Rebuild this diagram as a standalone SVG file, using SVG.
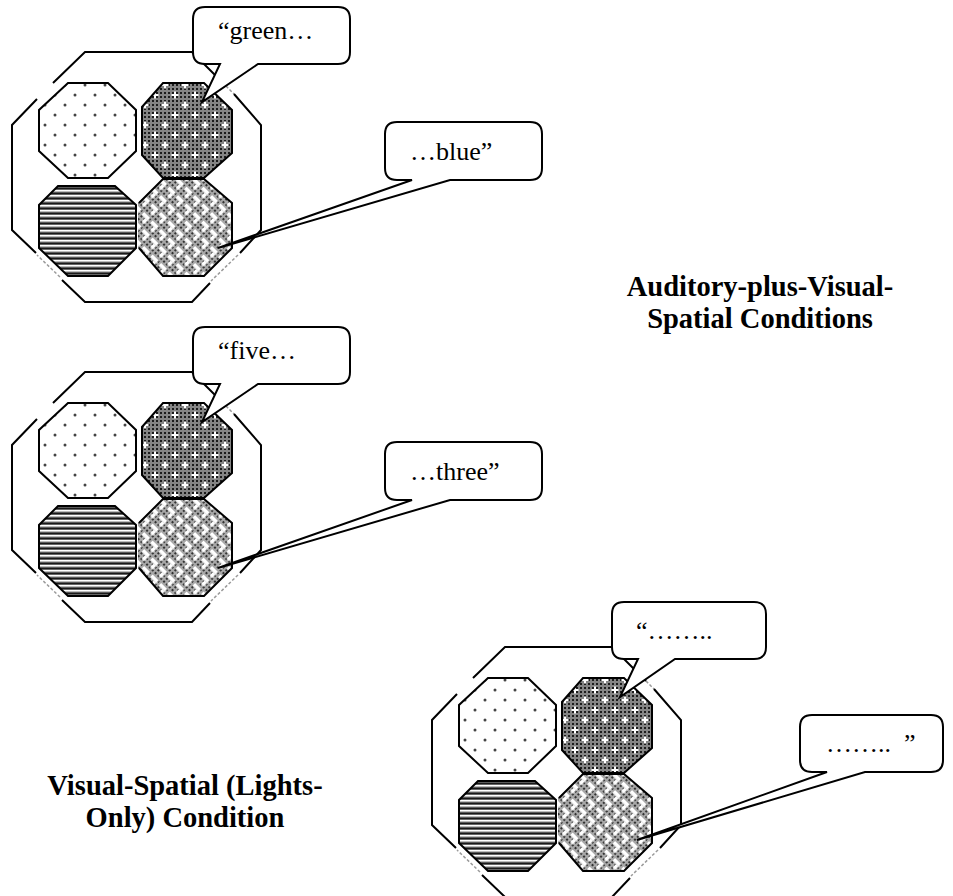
<svg xmlns="http://www.w3.org/2000/svg" xmlns:xlink="http://www.w3.org/1999/xlink" width="953" height="896" viewBox="0 0 953 896">
<style>
.ln{fill:none;stroke:#000;stroke-width:2;stroke-linejoin:miter}
.gr{fill:none;stroke:#9a9a9a;stroke-width:1.5;stroke-dasharray:3 2}
.oct{stroke:#000;stroke-width:2}
.bub{fill:#fff;stroke:#000;stroke-width:2;stroke-linejoin:miter}
.bt{font-family:"Liberation Serif","Times New Roman",serif;font-size:26px;fill:#000}
.lab{font-family:"Liberation Serif","Times New Roman",serif;font-size:28.5px;font-weight:bold;fill:#000;text-anchor:middle}
</style>
<defs>
<pattern id="dots" width="20" height="20" patternUnits="userSpaceOnUse">
<rect width="20" height="20" fill="#fff"/>
<circle cx="5" cy="5" r="1.5" fill="#444"/>
<circle cx="15" cy="15" r="1.5" fill="#444"/>
</pattern>
<pattern id="fine" width="4" height="4" patternUnits="userSpaceOnUse">
<rect width="4" height="4" fill="#858585"/>
<rect width="2" height="2" fill="#1c1c1c"/>
</pattern>
<pattern id="dark" width="20" height="20" patternUnits="userSpaceOnUse">
<rect width="20" height="20" fill="url(#fine)"/>
<path d="M1.5,5H8.5M5,1.5V8.5M11.5,15H18.5M15,11.5V18.5" stroke="#fff" stroke-width="2"/>
</pattern>
<pattern id="fine2" width="4" height="4" patternUnits="userSpaceOnUse">
<rect width="4" height="4" fill="#a8a8a8"/>
<rect width="2" height="2" fill="#333"/>
</pattern>
<pattern id="weave" width="12" height="12" patternUnits="userSpaceOnUse" patternTransform="rotate(45)">
<rect width="12" height="12" fill="url(#fine2)"/>
<rect x="0" y="0" width="8.5" height="3.6" fill="#fff"/>
<rect x="4.9" y="3.6" width="3.6" height="5" fill="#fff"/>
</pattern>
<pattern id="stripes" width="10" height="5" patternUnits="userSpaceOnUse">
<rect width="10" height="5" fill="#bdbdbd"/>
<rect y="0" width="10" height="1" fill="#fff"/>
<rect y="2.4" width="10" height="1.6" fill="#1a1a1a"/>
<rect y="4" width="10" height="1" fill="#666"/>
</pattern>
<g id="device">
<g class="frame">
<path class="ln" d="M53,83L85,52H192L226,86"/>
<path class="gr" d="M226,86L234,94"/>
<path class="ln" d="M234,94L261,125V230L240,253"/>
<path class="gr" d="M238,255L211,281"/>
<path class="ln" d="M210,283L192,302H85L62,280"/>
<path class="gr" d="M60,277L37,255"/>
<path class="ln" d="M36,253L12,230V125L37,99"/>
</g>
<polygon class="oct" fill="url(#dots)" points="68,83 108,83 136,110 136,151 108,178 68,178 39,151 39,110"/>
<polygon class="oct" fill="url(#dark)" points="163,83 204,83 232,110 232,153 204,178 163,178 142,155 142,107"/>
<polygon class="oct" fill="url(#stripes)" points="58,186 115,186 136,205 136,248 108,276 68,276 39,248 39,205"/>
<polygon fill="url(#weave)" points="163,179 204,179 232,203 232,248 204,276 163,276 138,248 138,203"/>
<polyline class="ln" points="139,248 163,276 204,276 232,248 232,203 204,179 163,179 139,203"/>
</g>
</defs>

<g id="display-auditory-colours"><use xlink:href="#device" href="#device"/></g>
<g id="display-auditory-digits" transform="translate(0,320)"><use xlink:href="#device" href="#device"/></g>
<g id="display-lights-only" transform="translate(420,595)"><use xlink:href="#device" href="#device"/></g>

<g id="connectors">
<g id="callout-green">
<path class="bub" d="M205,7H338Q350,7 350,19V52Q350,64 338,64H258L202,102L220,64H205Q193,64 193,52V19Q193,7 205,7Z"/>
<text class="bt" x="218" y="39">“green…</text>
</g>
<g id="callout-blue">
<path class="bub" d="M397,122H530Q542,122 542,134V168Q542,180 530,180H450L218,248L412,180H397Q385,180 385,168V134Q385,122 397,122Z"/>
<text class="bt" x="410" y="160">…blue”</text>
</g>
<g id="callout-five">
<path class="bub" d="M205,327H338Q350,327 350,339V372Q350,384 338,384H258L202,422L220,384H205Q193,384 193,372V339Q193,327 205,327Z"/>
<text class="bt" x="218" y="359">“five…</text>
</g>
<g id="callout-three">
<path class="bub" d="M397,442H530Q542,442 542,454V488Q542,500 530,500H450L218,568L412,500H397Q385,500 385,488V454Q385,442 397,442Z"/>
<text class="bt" x="410" y="480">…three”</text>
</g>
<g id="callout-open">
<path class="bub" d="M624,602H754Q766,602 766,614V647Q766,659 754,659H675L620,697L638,659H624Q612,659 612,647V614Q612,602 624,602Z"/>
<text class="bt" x="636" y="639">“……..</text>
</g>
<g id="callout-close">
<path class="bub" d="M812,715H931Q943,715 943,727V760Q943,772 931,772H865L637,840L827,772H812Q800,772 800,760V727Q800,715 812,715Z"/>
<text class="bt" x="826" y="752">……..<tspan x="904">”</tspan></text>
</g>
</g>

<g id="label-auditory">
<text class="lab" x="760" y="296">Auditory-plus-Visual-</text>
<text class="lab" x="760" y="327.5">Spatial Conditions</text>
</g>
<g id="label-visual">
<text class="lab" x="185" y="795">Visual-Spatial (Lights-</text>
<text class="lab" x="185" y="827">Only) Condition</text>
</g>
</svg>
